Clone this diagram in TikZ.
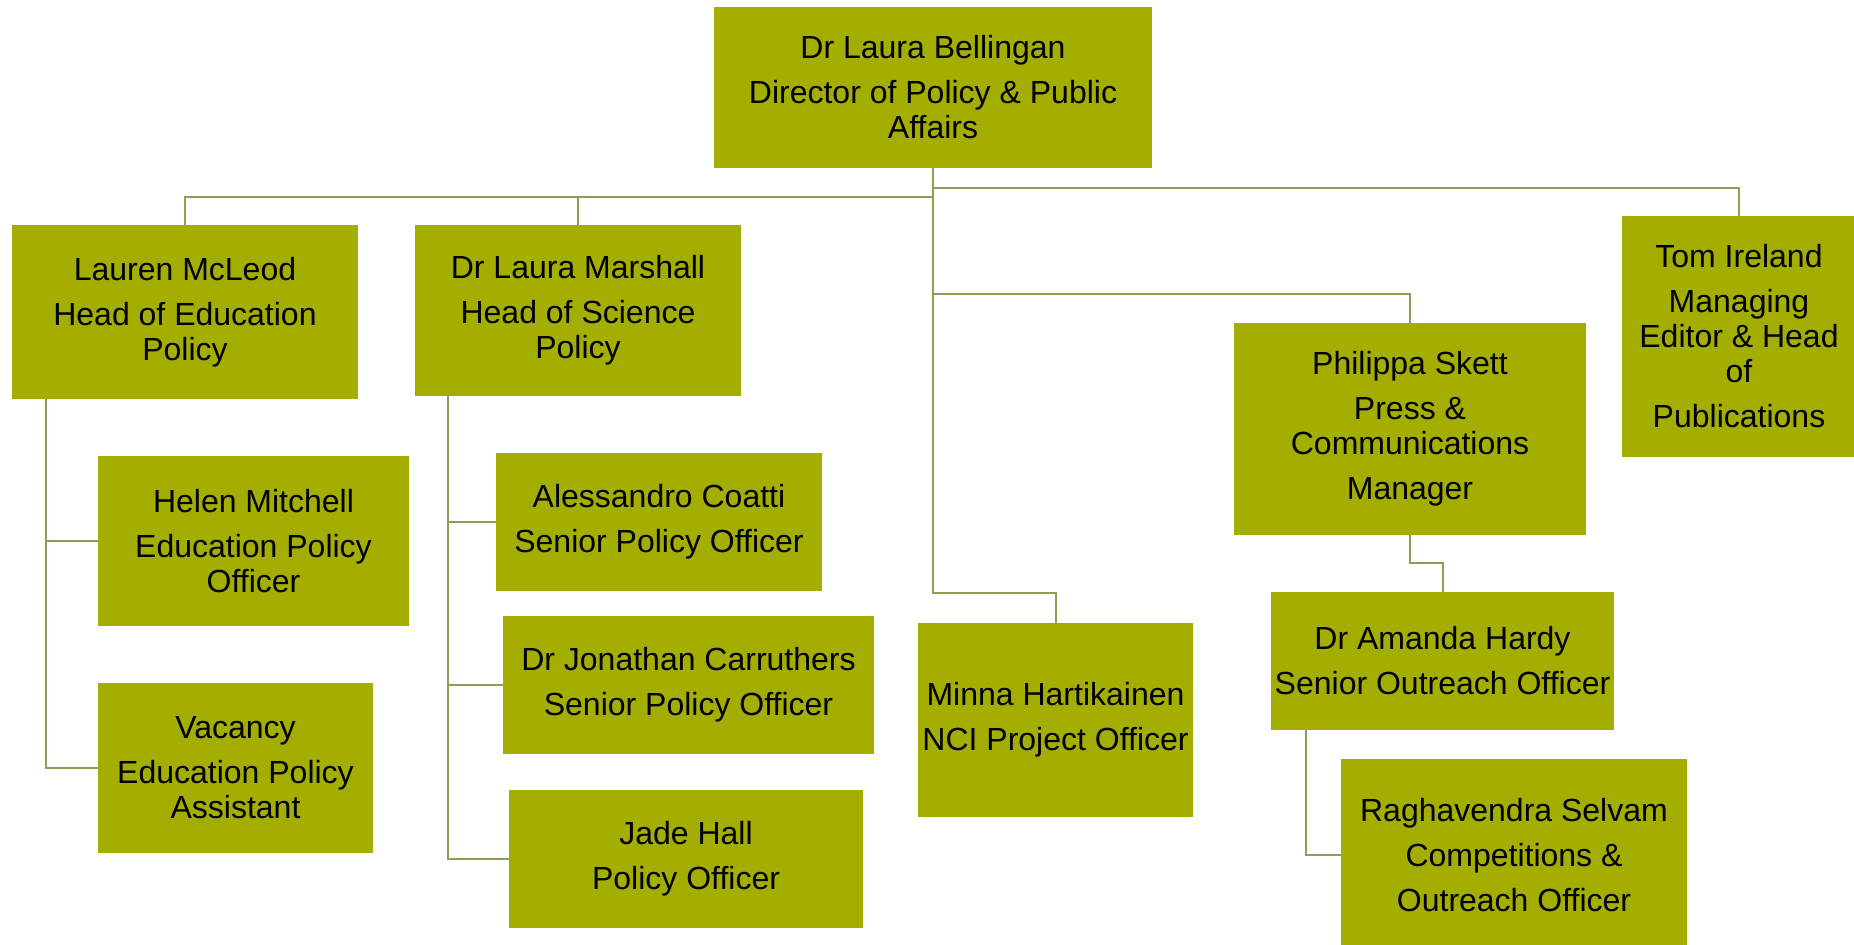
\documentclass[tikz,border=0pt]{standalone}
\usepackage{fontspec}
\setmainfont{Liberation Sans}
\usepackage{xcolor}
\usetikzlibrary{positioning}

\definecolor{boxolive}{RGB}{163,174,0}
\definecolor{lineolive}{RGB}{138,160,84}

\begin{document}
\begin{tikzpicture}[x=0.5pt, y=-0.5pt,
    person/.style={fill=boxolive, draw=none, inner sep=1pt, align=center,
        font=\fontsize{16pt}{17.5pt}\selectfont},
    link/.style={draw=lineolive, line width=1pt}]
        \useasboundingbox (0,0) rectangle (1854,945);

        % Director
        \node[person, minimum width=219pt, minimum height=80.5pt] (dir) at (933,87.5)
            {Dr Laura Bellingan\\[5pt]Director of Policy \& Public\\Affairs};

        % Heads
        \node[person, minimum width=173pt, minimum height=87pt] (mcleod) at (185,312)
            {Lauren McLeod\\[5pt]Head of Education\\Policy};
        \node[person, minimum width=163pt, minimum height=85.5pt] (marshall) at (578,310.5)
            {Dr Laura Marshall\\[5pt]Head of Science\\Policy};
        \node[person, minimum width=117pt, minimum height=120.5pt] (ireland) at (1739,336.5)
            {Tom Ireland\\[5pt]Managing\\Editor \& Head\\of\\[5pt]Publications};
        \node[person, minimum width=176pt, minimum height=106pt] (skett) at (1410,429)
            {Philippa Skett\\[5pt]Press \&\\Communications\\[5pt]Manager};
        \node[person, minimum width=137.5pt, minimum height=97pt] (hartikainen) at (1055.5,720)
            {Minna Hartikainen\\[5pt]NCI Project Officer};

        % Education team
        \node[person, minimum width=155.5pt, minimum height=85pt] (mitchell) at (253.5,541)
            {Helen Mitchell\\[5pt]Education Policy\\Officer};
        \node[person, minimum width=137.5pt, minimum height=85pt] (vacancy) at (235.5,768)
            {Vacancy\\[5pt]Education Policy\\Assistant};

        % Science team
        \node[person, minimum width=163pt, minimum height=69pt] (coatti) at (659,522)
            {Alessandro Coatti\\[5pt]Senior Policy Officer};
        \node[person, minimum width=185.5pt, minimum height=69pt] (carruthers) at (688.5,685)
            {Dr Jonathan Carruthers\\[5pt]Senior Policy Officer};
        \node[person, minimum width=177pt, minimum height=69pt] (hall) at (686,859)
            {Jade Hall\\[5pt]Policy Officer};

        % Press team
        \node[person, minimum width=171.5pt, minimum height=69pt] (hardy) at (1442.5,661)
            {Dr Amanda Hardy\\[5pt]Senior Outreach Officer};
        \node[person, minimum width=173pt, minimum height=96pt] (selvam) at (1514,855)
            {Raghavendra Selvam\\[5pt]Competitions \&\\[5pt]Outreach Officer};

        % Lines from the director
        \draw[link] (dir.south) -- ++(0,29) -| (mcleod.north);
        \draw[link] (dir.south) ++(0,29) -| (marshall.north);
        \draw[link] (dir.south) ++(0,20) -| (ireland.north);
        \draw[link] (dir.south) ++(0,126) -| (skett.north);
        \draw[link] (dir.south) -- ++(0,425) -| (hartikainen.north);

        % Lines within the teams
        \draw[link] (mcleod.south west) ++(34,0) |- (mitchell.west);
        \draw[link] (mcleod.south west) ++(34,0) |- (vacancy.west);
        \draw[link] (marshall.south west) ++(33,0) |- (coatti.west);
        \draw[link] (marshall.south west) ++(33,0) |- (carruthers.west);
        \draw[link] (marshall.south west) ++(33,0) |- (hall.west);
        \draw[link] (skett.south) -- ++(0,28) -| (hardy.north);
        \draw[link] (hardy.south west) ++(35,0) |- (selvam.west);
    \end{tikzpicture}
\end{document}
